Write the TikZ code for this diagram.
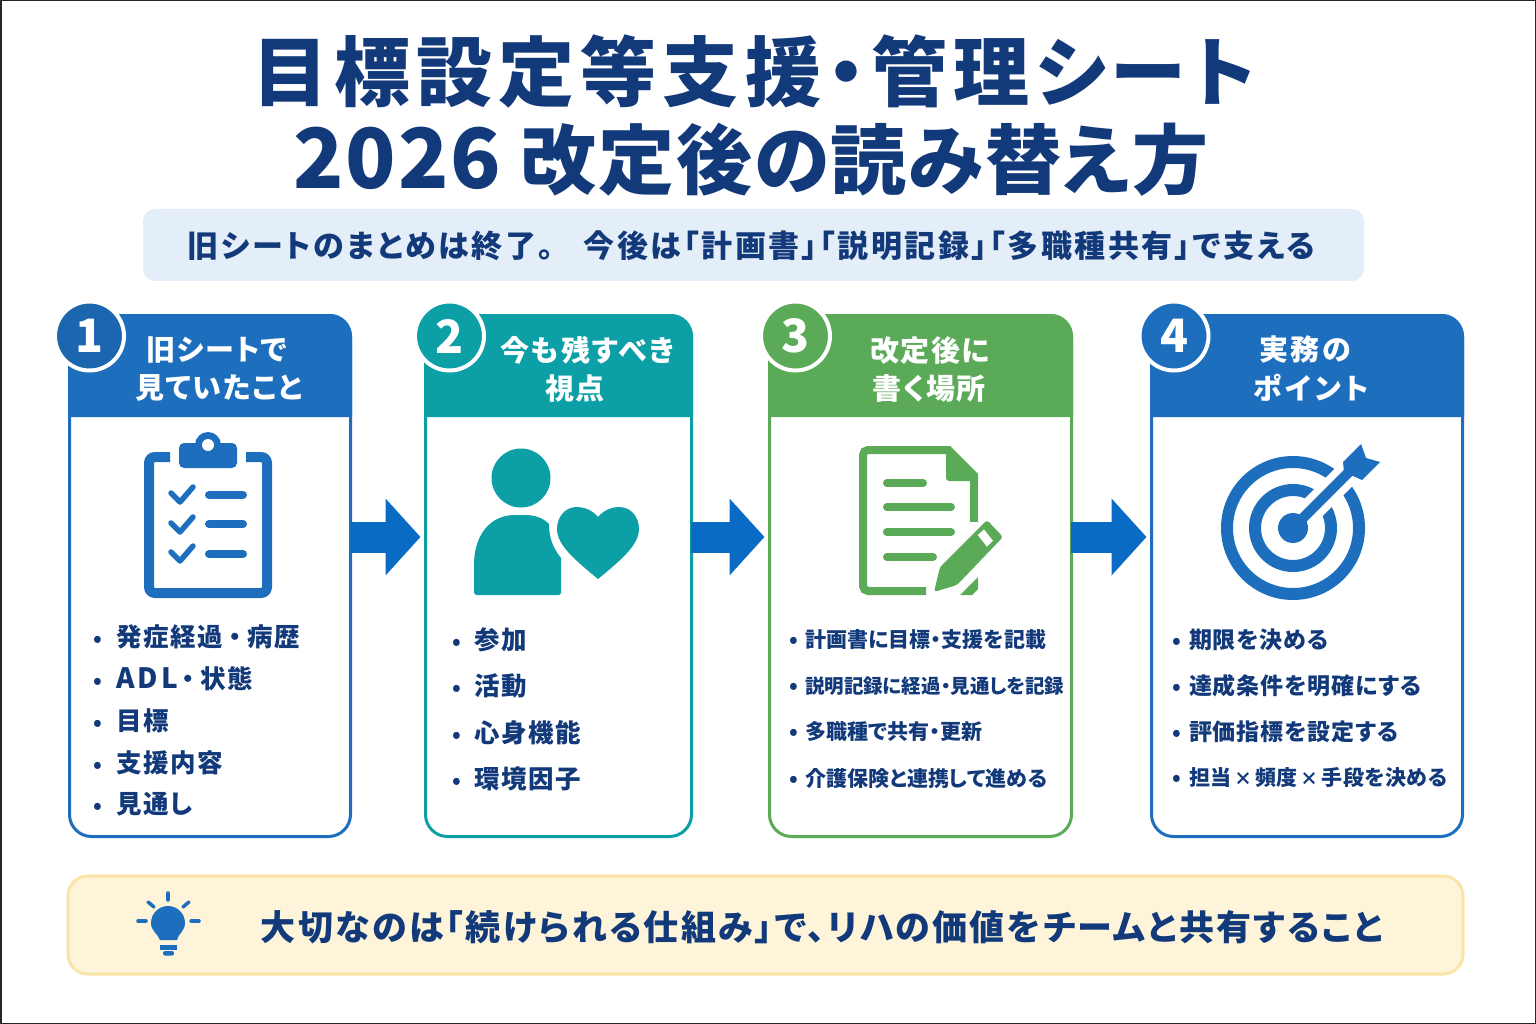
\documentclass[tikz,border=0pt]{standalone}
\usepackage{fontspec}
\setmainfont{Noto Sans CJK JP}[RawFeature=+palt]
\usetikzlibrary{arrows.meta}
\definecolor{navytext}{HTML}{12397A}
\definecolor{cardblue}{HTML}{1E6EBE}
\definecolor{cardteal}{HTML}{0C9FA6}
\definecolor{cardgreen}{HTML}{5BAA58}
\definecolor{flowblue}{HTML}{0A6BC4}
\definecolor{subbar}{HTML}{E4EEF8}
\definecolor{notefill}{HTML}{FDF4D9}
\definecolor{noteline}{HTML}{FBE4A8}
\newcommand{\fsz}[2]{\fontsize{#1}{#1}\selectfont\addfontfeature{LetterSpace=#2}}
\newcommand{\itemdot}[1]{\makebox[#1pt][l]{\raisebox{0pt}{\fontsize{22}{22}\selectfont •}}}

\begin{document}
\begin{tikzpicture}[x=1pt,y=1pt,yscale=-1,
  every node/.style={inner sep=0pt,outer sep=0pt},
  titletext/.style={text=navytext,font=\fsz{76}{8}\bfseries},
  titletwo/.style={text=navytext,font=\fsz{76}{2.4}\bfseries},
  subtext/.style={text=navytext,font=\fsz{31}{8}\bfseries},
  notetext/.style={text=navytext,font=\fsz{35}{6.6}\bfseries},
  headtext/.style={text=white,font=\fsz{29}{5}\bfseries},
  badgebox/.style={circle,draw=white,line width=4pt,minimum size=69pt,text=white,font=\fsz{46}{0}\bfseries},
  cardbox/.style={draw,line width=3pt,rounded corners=22pt,fill=white,minimum height=521pt},
  listitem/.style={text=navytext,anchor=west,font=\fsz{25.5}{6}\bfseries},
  smallitem/.style={text=navytext,anchor=west,font=\fsz{21}{.5}\bfseries},
  miditem/.style={text=navytext,anchor=west,font=\fsz{23}{4}\bfseries},
  flowarrow/.style={draw=flowblue,line width=31pt,shorten <=-1pt,shorten >=5pt,-{Triangle[length=35pt,width=75pt]}},
  bar/.style={line width=8pt,line cap=round},
  ticks/.style={draw=cardblue,line width=5.5pt,line join=round,line cap=round}]
\useasboundingbox (0,0) rectangle (1536,1024);
\fill [white] (0,0) rectangle (1536,1024);
\draw [black!85,line width=3pt] (0,0) rectangle (1536,1024);

% Title
\node [titletext] (title1) at (754,72) {目標設定等支援・管理シート};
\node [titletwo] (title2) at (751,160) {{\fontsize{83}{83}\selectfont 2026} 改定後の読み替え方};

%Shape: Sub bar
\node [fill=subbar,rounded corners=12pt,minimum width=1221pt,minimum height=72pt] (subbox) at (753.5,245) {};
\node [subtext] (subline) at (751.5,246) {旧シートのまとめは終了。\hspace{20pt} 今後は「計画書」「説明記録」「多職種共有」で支える};

%Shape: Cards
\node [cardbox,draw=cardblue,minimum width=281pt] (card1) at (210,576) {};
\node [cardbox,draw=cardteal,minimum width=266pt] (card2) at (558.5,576) {};
\node [cardbox,draw=cardgreen,minimum width=302pt] (card3) at (920.5,576) {};
\node [cardbox,draw=cardblue,minimum width=311pt] (card4) at (1307,576) {};

%Shape: Card headers
\fill [cardblue] (68,417) [rounded corners=22pt] -- (68,314) -- (352,314) [sharp corners] -- (352,417) -- cycle;
\fill [cardteal] (424,417) [rounded corners=22pt] -- (424,314) -- (693,314) [sharp corners] -- (693,417) -- cycle;
\fill [cardgreen] (768,417) [rounded corners=22pt] -- (768,314) -- (1073,314) [sharp corners] -- (1073,417) -- cycle;
\fill [cardblue] (1150,417) [rounded corners=22pt] -- (1150,314) -- (1464,314) [sharp corners] -- (1464,417) -- cycle;

%Shape: Badges
\node [badgebox,fill=cardblue!92!black] (badge1) at (89.5,336) {1};
\node [badgebox,fill=cardteal] (badge2) at (449.5,336) {2};
\node [badgebox,fill=cardgreen] (badge3) at (795.5,336) {3};
\node [badgebox,fill=cardblue] (badge4) at (1174,336) {4};

% Text Node
\node [headtext] (head1a) at (217,350) {旧シートで};
\node [headtext] (head1b) at (219,388) {見ていたこと};
\node [headtext,font=\fsz{29}{7}\bfseries] (head2a) at (587,350) {今も残すべき};
\node [headtext] (head2b) at (575,388) {視点};
\node [headtext] (head3a) at (930,350) {改定後に};
\node [headtext] (head3b) at (929,388) {書く場所};
\node [headtext,font=\fsz{29}{9}\bfseries] (head4a) at (1305,350) {実務の};
\node [headtext,font=\fsz{29}{13}\bfseries] (head4b) at (1311,388) {ポイント};

%Shape: Flow arrows
\coordinate (arrowrow) at (0,537);
\draw [flowarrow] (card1.east |- arrowrow) -- (card2.west |- arrowrow);
\draw [flowarrow] (card2.east |- arrowrow) -- (card3.west |- arrowrow);
\draw [flowarrow] (card3.east |- arrowrow) -- (card4.west |- arrowrow);

%Shape: Clipboard
\draw [cardblue,line width=10pt,rounded corners=6pt] (170,457) -- (149,457) -- (149,593) -- (267,593) -- (267,457) -- (246,457);
\fill [cardblue] (208,445) circle (13);
\fill [cardblue,rounded corners=5pt] (179,443) rectangle (237,468);
\fill [white] (208,445) circle (6);
\draw [ticks] (171,493) -- (180,502) -- (193,487);
\draw [ticks] (171,523) -- (180,532) -- (193,517);
\draw [ticks] (171,552) -- (180,561) -- (193,546);
\draw [cardblue,bar] (209,495) -- (243,495);
\draw [cardblue,bar] (209,524) -- (243,524);
\draw [cardblue,bar] (209,554) -- (243,554);

%Shape: Person and heart
\fill [cardteal] (521,478) circle (29.5);
\fill [cardteal] (476,595) -- (474,593) -- (474,565) .. controls (474,535) and (490,515) .. (515,515) -- (525,515) .. controls (535,515) and (543,518) .. (549,524) .. controls (549,538) and (553,548) .. (561,558) -- (561,593) -- (559,595) -- cycle;
\fill [cardteal] (598,517) .. controls (592,510) and (584,507) .. (577,507) .. controls (565,507) and (557,517) .. (557,529) .. controls (557,545) and (575,560) .. (598,579) .. controls (621,560) and (639,545) .. (639,529) .. controls (639,517) and (631,507) .. (619,507) .. controls (612,507) and (604,510) .. (598,517) -- cycle;

%Shape: Document and pencil
\draw [cardgreen,line width=8pt,rounded corners=5pt] (926,591) -- (863,591) -- (863,450) -- (950,450);
\fill [cardgreen] (946,446) -- (950,446) -- (978,474) -- (978,481) -- (953,481) [rounded corners=3pt] -- (946,481) [sharp corners] -- (946,446) -- cycle;
\draw [cardgreen,line width=8pt] (974,475) -- (974,522);
\fill [cardgreen] (978,577) -- (960,595) -- (972,595) -- (978,589) -- cycle;
\draw [cardgreen,bar] (887,483) -- (923,483);
\draw [cardgreen,bar] (887,507) -- (951,507);
\draw [cardgreen,bar] (887,532) -- (951,532);
\draw [cardgreen,bar] (887,557) -- (933,557);
\fill [cardgreen,rounded corners=3pt] (934,592) -- (940,567) -- (987,520) -- (1003,537) -- (957,585) -- cycle;
\fill [white] (977.7,535) -- (984,529.5) -- (993,540.7) -- (987,546.7) -- cycle;

%Shape: Target
\draw [cardblue,line width=12pt] (1293,528) circle (66);
\draw [cardblue,line width=12pt] (1293,528) circle (38);
\draw [white,line width=25pt] (1305,516) -- (1352,469);
\draw [cardblue,line width=10pt] (1293,528) -- (1350,471);
\fill [cardblue] (1293,528) circle (15);
\fill [cardblue] (1343,462) -- (1361,444) -- (1366,458) -- (1380,462) -- (1362,480) -- (1344,472) -- cycle;

% Text Node
\node [listitem] (item1a) at (93,637) {\itemdot{23}発症経過\hspace{6pt}・\hspace{6pt}病歴};
\node [listitem] (item1b) at (93,679) {\itemdot{23}{\fontsize{28}{28}\selectfont\addfontfeature{LetterSpace=12}ADL}\hspace{4pt}・\hspace{5pt}状態};
\node [listitem] (item1c) at (93,721) {\itemdot{23}目標};
\node [listitem] (item1d) at (93,763) {\itemdot{23}支援内容};
\node [listitem] (item1e) at (93,804) {\itemdot{23}見通し};
% Text Node
\node [listitem] (item2a) at (452,640) {\itemdot{22}参加};
\node [listitem] (item2b) at (452,686) {\itemdot{22}活動};
\node [listitem] (item2c) at (452,733) {\itemdot{22}心身機能};
\node [listitem] (item2d) at (452,779) {\itemdot{22}環境因子};
% Text Node
\node [smallitem] (item3a) at (789,640) {\itemdot{16}計画書に目標・支援を記載};
\node [smallitem,font=\fsz{19.5}{0}\bfseries] (item3b) at (789,686) {\itemdot{16}説明記録に経過・見通しを記録};
\node [smallitem] (item3c) at (789,732) {\itemdot{16}多職種で共有・更新};
\node [smallitem] (item3d) at (789,779) {\itemdot{16}介護保険と連携して進める};
% Text Node
\node [miditem] (item4a) at (1172,640) {\itemdot{17}期限を決める};
\node [miditem] (item4b) at (1172,686) {\itemdot{17}達成条件を明確にする};
\node [miditem] (item4c) at (1172,732) {\itemdot{17}評価指標を設定する};
\node [miditem,font=\fsz{21}{2}\bfseries] (item4d) at (1172,778) {\itemdot{17}担当\hspace{3pt}{\fontsize{18}{18}\selectfont ×}\hspace{3pt}頻度\hspace{3pt}{\fontsize{18}{18}\selectfont ×}\hspace{3pt}手段を決める};

%Shape: Note bar
\node [fill=notefill,draw=noteline,line width=3pt,rounded corners=20pt,minimum width=1395pt,minimum height=98pt] (notebox) at (765.5,925) {};
\node [notetext] (notetxt) at (822,927) {大切なのは「続けられる仕組み」で、リハの価値をチームと共有すること};

%Shape: Light bulb
\fill [cardblue] (160,940) .. controls (158,934) and (151,931) .. (151,923) arc (180:360:17) .. controls (185,931) and (178,934) .. (177,940) -- cycle;
\fill [cardblue] (160,945) rectangle (177,949.5);
\fill [cardblue,rounded corners=2pt] (163,951) rectangle (174,955.5);
\draw [cardblue,line width=3.5pt,line cap=round] (168,893) -- (168,900);
\draw [cardblue,line width=3.5pt,line cap=round] (148,902) -- (154,907);
\draw [cardblue,line width=3.5pt,line cap=round] (189,902) -- (183,907);
\draw [cardblue,line width=3.5pt,line cap=round] (138,921) -- (146,921);
\draw [cardblue,line width=3.5pt,line cap=round] (191,921) -- (199,921);

\end{tikzpicture}
\end{document}
